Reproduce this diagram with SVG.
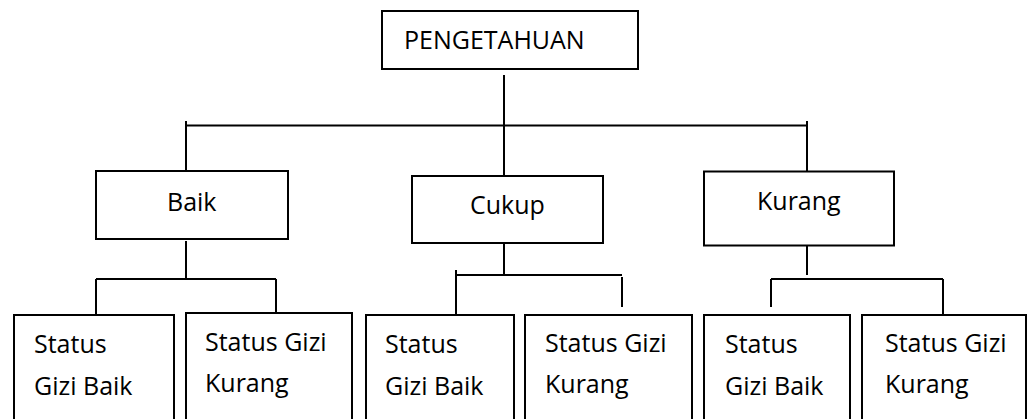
<svg xmlns="http://www.w3.org/2000/svg" width="1028" height="419" viewBox="0 0 1028 419">
<style>
.box{fill:#fff;stroke:#000;stroke-width:2}
.lbl{font-family:"Open Sans","Noto Sans","Liberation Sans",sans-serif;font-size:25px;fill:#000}
.con{fill:none;stroke:#000;stroke-width:2}
</style>
<rect width="1028" height="419" fill="#fff"/>
<g id="connectors" class="con">
<path d="M504 75V176M186 125.5H807M186 121V171M807 121V171"/>
<path d="M186 241V279M96 279H276M96 279V315M276 279V313"/>
<path d="M504 239V275M456 275H622M456 270V315M622 277V307"/>
<path d="M807 246V275M771 279H943M771 279V307M943 279V315"/>
</g>
<g id="pengetahuan"><rect class="box" x="382" y="11" width="256" height="58"/><text class="lbl" x="404" y="49">PENGETAHUAN</text></g>
<g id="baik"><rect class="box" x="96" y="171" width="192" height="68"/><text class="lbl" x="167" y="211">Baik</text></g>
<g id="cukup"><rect class="box" x="412" y="176" width="191" height="67"/><text class="lbl" x="470" y="214">Cukup</text></g>
<g id="kurang"><rect class="box" x="704" y="171.5" width="190" height="74"/><text class="lbl" x="757" y="210">Kurang</text></g>
<g id="baik-gizi-baik"><rect class="box" x="14" y="315" width="160" height="130"/><text class="lbl" x="34" y="353">Status</text><text class="lbl" x="34" y="395">Gizi Baik</text></g>
<g id="baik-gizi-kurang"><rect class="box" x="186" y="313" width="166" height="130"/><text class="lbl" x="205" y="351">Status Gizi</text><text class="lbl" x="205" y="392">Kurang</text></g>
<g id="cukup-gizi-baik"><rect class="box" x="366" y="315" width="148" height="130"/><text class="lbl" x="385" y="353">Status</text><text class="lbl" x="385" y="395">Gizi Baik</text></g>
<g id="cukup-gizi-kurang"><rect class="box" x="525" y="315" width="167" height="130"/><text class="lbl" x="545" y="352">Status Gizi</text><text class="lbl" x="545" y="393">Kurang</text></g>
<g id="kurang-gizi-baik"><rect class="box" x="704" y="315" width="146" height="130"/><text class="lbl" x="725" y="353">Status</text><text class="lbl" x="725" y="395">Gizi Baik</text></g>
<g id="kurang-gizi-kurang"><rect class="box" x="862" y="315" width="164" height="130"/><text class="lbl" x="885" y="352">Status Gizi</text><text class="lbl" x="885" y="393">Kurang</text></g>
</svg>
